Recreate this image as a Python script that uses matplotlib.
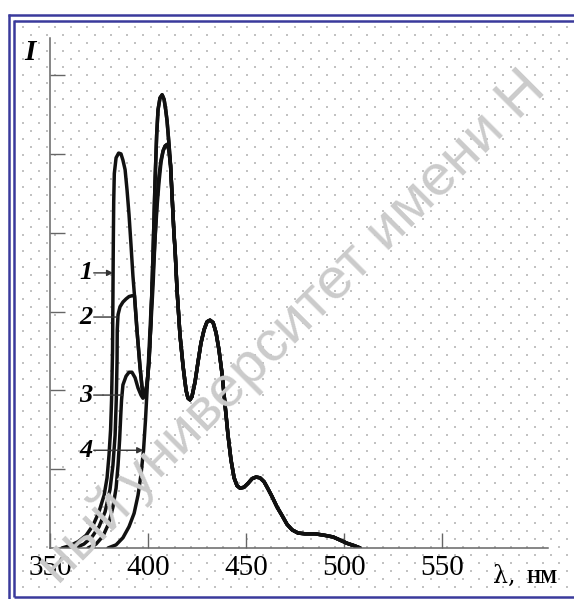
import matplotlib
matplotlib.use("Agg")
import matplotlib.pyplot as plt

# ---------------- data ----------------
# intensity in tick units (ticks at 1..6), wavelength in nm
wl_1 = [356.1, 360.2, 364.3, 368.4, 372, 375, 377.6, 379.1, 380.1, 380.9, 381.4, 381.9, 382.1,
        382.3, 382.5, 382.8, 383.7, 385, 386.2, 387.2, 388.3, 389.3, 390.3, 391.3, 392.3, 393.1,
        394.4, 395.9, 396.9, 397.6, 398.5, 399.5, 400.5, 401.5, 402.6, 403.6, 404.4, 405.1,
        406.1, 407.2, 408.2, 409.0, 409.7, 410.7]
I_1 = [0, 0.03, 0.08, 0.16, 0.29, 0.46, 0.67, 0.89, 1.18, 1.5, 1.88, 2.5, 3.2,
       3.9, 4.4, 4.75, 4.95, 5.01, 5.0, 4.92, 4.8, 4.54, 4.23, 3.85, 3.45, 3.2,
       2.75, 2.3, 2.05, 1.93, 1.95, 2.08, 2.35, 2.89, 3.78, 4.67, 5.24, 5.56,
       5.71, 5.75, 5.69, 5.56, 5.42, 5.12]

wl_2 = [362.8, 367.3, 371.4, 375, 378.1, 380.6, 382.1, 383.2, 383.8, 384.2, 384.3, 384.7, 385.7,
        387.2, 388.8, 390.3, 391.8, 393.1, 394.4, 395.9, 396.9, 397.6, 398.5, 399.5, 400.5,
        401.5, 402.6, 403.6, 404.4, 405.1, 406.1, 407.2, 408.2, 409.0, 409.7, 410.7]
I_2 = [0, 0.05, 0.14, 0.27, 0.46, 0.74, 1.05, 1.43, 1.88, 2.39, 2.77, 2.96, 3.06,
       3.12, 3.16, 3.19, 3.2, 3.2, 2.75, 2.3, 2.05, 1.93, 1.95, 2.08, 2.35,
       2.89, 3.78, 4.67, 5.24, 5.56, 5.71, 5.75, 5.69, 5.56, 5.42, 5.12]

wl_3 = [369.4, 373.5, 377, 380.1, 382.1, 383.7, 384.7, 385.5, 386.1, 386.5, 387.2, 388.8, 390.3,
        391.8, 393.4, 394.9, 396.4, 397.4, 398.5, 399.5, 400.5, 401.5, 402.6, 403.6, 404.6,
        405.6, 406.6, 407.7, 408.7, 409.7, 410.6]
I_3 = [0, 0.05, 0.15, 0.32, 0.52, 0.76, 1.05, 1.37, 1.69, 1.88, 2.07, 2.18, 2.23,
       2.23, 2.16, 2.03, 1.94, 1.9, 1.93, 2.07, 2.4, 2.85, 3.35, 3.95, 4.42,
       4.73, 4.92, 5.04, 5.1, 5.12, 5.05]

wl_4 = [379.6, 383.7, 387.2, 390.3, 392.9, 394.9, 396.4, 397.7, 398.7, 399.5, 400.5, 401.5, 402.6,
        403.6, 404.6, 405.6, 406.6, 407.7, 408.7, 409.7, 410.6]
I_4 = [0, 0.04, 0.13, 0.27, 0.44, 0.67, 0.93, 1.24, 1.62, 2.0, 2.51, 3.02, 3.5,
       3.93, 4.33, 4.64, 4.89, 5.04, 5.1, 5.12, 5.05]

# common long-wavelength part shared by all four spectra
wl_tail = [411.5, 412.2, 413.2, 413.8, 414.8, 416.3, 417.9, 419.4, 420.4, 421.4, 422.4, 424.0,
           425.5, 427.0, 428.6, 430.1, 431.6, 433.2, 434.7, 436.2, 437.8, 439.3, 440.8, 442.3,
           443.9, 445.4, 446.9, 448.9, 451.0, 453.1, 455.1, 457.1, 459.2, 461.2, 463.3, 465.8,
           468.4, 470.9, 473.5, 476.5, 480.1, 485.2, 490.3, 494.4, 498.0, 501.5, 505.1, 508.2]
I_tail = [4.85, 4.5, 4.0, 3.78, 3.27, 2.70, 2.30, 2.0, 1.9, 1.88, 1.92, 2.11,
          2.36, 2.6, 2.77, 2.87, 2.89, 2.86, 2.73, 2.51, 2.2, 1.81, 1.43, 1.12,
          0.89, 0.79, 0.76, 0.77, 0.82, 0.88, 0.9, 0.89, 0.84, 0.75, 0.65, 0.52,
          0.41, 0.3, 0.23, 0.19, 0.18, 0.18, 0.16, 0.14, 0.1, 0.06, 0.03, 0.0]

x_ticks = [350, 400, 450, 500, 550]
x_ticklabels = ["350", "400", "450", "500", "550"]
y_ticks = [1, 2, 3, 4, 5, 6]
curve_labels = ["1", "2", "3", "4"]
label_levels = [3.49, 2.93, 1.94, 1.24]   # where the label leaders meet the curves
label_targets = [382.2, 384.3, 387.2, 397.6]

# ---------------- figure ----------------
W, H = 574, 599
fig = plt.figure(figsize=(W / 100, H / 100), dpi=100)
fig.patch.set_facecolor("white")

# background layer in pixel coordinates: frame, dot pattern, watermark
bg = fig.add_axes([0, 0, 1, 1], zorder=0)
bg.set_xlim(0, W)
bg.set_ylim(H, 0)
bg.axis("off")

xs, ys = [], []
r = 0
y = 26.7
while y < 594:
    x = 6.7 if r % 2 == 0 else 14.7
    while x < W:
        if x > 16:
            xs.append(x)
            ys.append(y)
        x += 16
    y += 8
    r += 1
bg.scatter(xs, ys, s=1.6, marker="s", color="#c2c2c2", linewidths=0)

fc = "#3a3a9c"
lwf = 1.8
bg.plot([8, W], [14.8, 14.8], color=fc, lw=lwf, solid_capstyle="butt")
bg.plot([14, W], [20.8, 20.8], color=fc, lw=lwf, solid_capstyle="butt")
bg.plot([8.5, 8.5], [14, H], color=fc, lw=lwf, solid_capstyle="butt")
bg.plot([14, 14], [20, 597], color=fc, lw=lwf, solid_capstyle="butt")
bg.plot([14, W], [597, 597], color=fc, lw=lwf, solid_capstyle="butt")

# watermark
wm_kw = dict(fontsize=42, color="#cbcbcb", rotation=45, rotation_mode="anchor",
             family="Liberation Sans", va="baseline", transform=fig.transFigure)
fig.text(139 / W, 1 - 501 / H, "университет имени Н", ha="left", **wm_kw)
fig.text(139 / W - 0.012, 1 - 501 / H - 0.011, "ный", ha="right", **wm_kw)

# main axes
ax = fig.add_axes([50 / W, 1 - 548 / H, 498 / W, 510 / H], zorder=2)
ax.patch.set_alpha(0)
ax.set_xlim(350, 604)
ax.set_ylim(0, 6.47)

for w, i in [(wl_4, I_4), (wl_3, I_3), (wl_2, I_2), (wl_1, I_1)]:
    ax.plot(list(w) + wl_tail, list(i) + I_tail, color="#111111", lw=2.5,
            solid_joinstyle="round", solid_capstyle="round")

for s in ["top", "right"]:
    ax.spines[s].set_visible(False)
for s in ["left", "bottom"]:
    ax.spines[s].set_color("#666666")
    ax.spines[s].set_linewidth(1.1)

ax.set_xticks(x_ticks)
ax.set_xticklabels(x_ticklabels, family="Liberation Serif", fontsize=21)
ax.set_yticks(y_ticks)
ax.set_yticklabels([])
ax.tick_params(axis="x", direction="in", length=11, width=1, color="#666666", pad=5)
ax.tick_params(axis="y", direction="in", length=11, width=1, color="#666666")

# axis titles
fig.text(30 / W, 1 - 52 / H, "I", family="Liberation Serif", style="italic",
         weight="bold", fontsize=21, ha="center", va="center")
fig.text(493 / W, 1 - 583 / H, "λ,", family="DejaVu Serif", fontsize=17,
         ha="left", va="baseline")
fig.text(527 / W, 1 - 583 / H, "НМ", family="Liberation Serif", weight="bold",
         fontsize=13, ha="left", va="baseline")

# curve labels with leaders
label_x = 368.5
for k, (lab, lv, tx) in enumerate(zip(curve_labels, label_levels, label_targets)):
    ax.text(label_x, lv, lab, family="Liberation Serif", style="italic", weight="bold",
            fontsize=19, ha="center", va="center")
    arrow = k in (0, 3)
    ax.annotate("", xy=(tx, lv), xytext=(label_x + 3.8, lv),
                arrowprops=dict(arrowstyle="-|>" if arrow else "-", color="#333333",
                                lw=1.0, mutation_scale=9, shrinkA=0, shrinkB=0))

fig.savefig("out.png", dpi=100, facecolor="white")
